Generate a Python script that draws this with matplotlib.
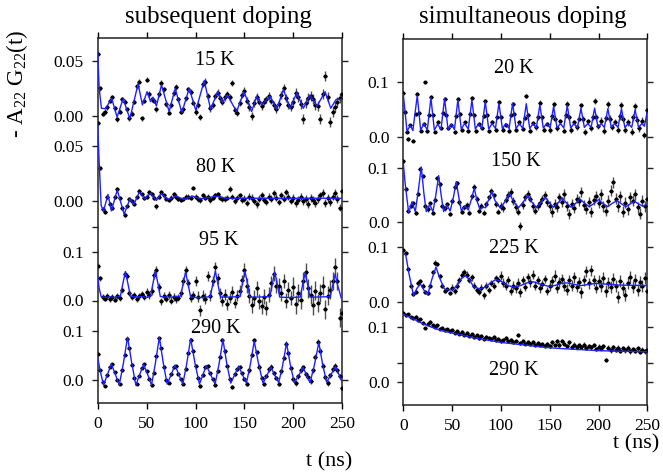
import numpy as np
import matplotlib
matplotlib.use('Agg')
import matplotlib.pyplot as plt

plt.rcParams['font.family'] = ['Liberation Serif', 'DejaVu Serif']
plt.rcParams['mathtext.fontset'] = 'custom'
plt.rcParams['mathtext.rm'] = 'Liberation Serif'
plt.rcParams['mathtext.it'] = 'Liberation Serif:italic'

# ---------------- data ----------------
BIN_NS = 2.5  # spacing of the regularly binned data (ns)

# subsequent doping, 15 K
l15_fit_t = [0, 1.5, 3.8, 8, 14.3, 19.8, 26, 32.8, 41.3, 45.7, 50.5, 54, 56.5, 60, 65.2, 73, 79.2, 86, 93.5,
             100.3, 108.9, 115.4, 122.5, 127.6, 132.4, 142, 149.5, 157.3, 162.5, 167.6, 176, 183, 189.8,
             196.6, 203.4, 210.2, 217, 224, 232.4, 238.2, 243.7, 250]
l15_fit_v = [0.058, 0.025, 0.007, 0.0066, 0.016, -0.001, 0.0157, -0.0024, 0.029, 0.010, 0.022, 0.013, 0.017,
             0.009, 0.028, 0.004, 0.025, 0.003, 0.025, 0.005, 0.032, 0.006, 0.022, 0.012, 0.019, 0.004, 0.022,
             0.004, 0.018, 0.010, 0.018, 0.006, 0.024, 0.0066, 0.021, 0.007, 0.019, 0.0087, 0.022, 0.007,
             0.015, 0.015]
l15_data = [0.056, 0.025, 0.002, 0.004, 0.008, 0.014, 0.017, 0.007, -0.003, 0.004,
            0.015, 0.013, 0.006, -0.002, 0.002, 0.013, 0.027, 0.031, -0.002, 0.014,
            0.033, 0.020, 0.015, 0.014, 0.006, 0.020, 0.030, 0.024, 0.011, 0.003,
            0.010, 0.021, 0.026, 0.015, 0.004, 0.006, 0.016, 0.024, 0.022, 0.012,
            0.004, 0.010, -0.001, 0.029, 0.031, 0.018, 0.007, 0.010, 0.018, 0.021,
            0.016, 0.013, 0.017, 0.020, 0.017, 0.030, 0.005, 0.003, 0.012, 0.019,
            0.023, 0.014, 0.008, 0.000, 0.012, 0.017, 0.013, 0.009, 0.013, 0.015,
            0.018, 0.014, 0.010, 0.006, 0.011, 0.019, 0.025, 0.016, 0.010, 0.008,
            0.013, 0.021, 0.017, 0.011, -0.003, 0.012, 0.016, 0.018, 0.015, 0.010,
            0.009, -0.003, 0.020, 0.036, 0.017, -0.005, 0.004, 0.008, 0.013, 0.016,
            0.020]
l15_err = [0.0022, 0.0025, 0.003, 0.0035, 0.0045]

# subsequent doping, 80 K
l80_fit_t = [0, 1.5, 3.5, 6, 10.5, 14, 20, 27, 33, 37, 42.5, 48, 54, 60, 65, 72, 80, 88, 97, 105, 113, 121, 130, 250]
l80_fit_v = [0.070, 0.035, -0.004, -0.009, 0.006, -0.009, 0.010, -0.012, 0.002, -0.003, 0.008, 0.002, 0.007,
             0.0005, 0.0065, 0.0015, 0.0045, 0.0015, 0.0045, 0.002, 0.003, 0.0045, 0.0025, 0.0025]
l80_data = [0.071, 0.030, -0.007, -0.010, 0.004, -0.003, -0.006, 0.004, 0.011, 0.003,
            -0.006, -0.013, -0.005, 0.002, 0.000, -0.003, 0.004, 0.009, 0.006, 0.003,
            0.004, 0.008, 0.006, 0.003, -0.005, 0.004, 0.008, 0.005, 0.002, 0.001,
            0.003, 0.006, 0.004, 0.002, 0.001, 0.002, 0.004, 0.004, 0.003, 0.012,
            0.004, 0.002, 0.001, 0.005, 0.003, 0.004, 0.001, 0.003, 0.005, 0.006,
            0.003, 0.002, 0.002, 0.003, 0.011, 0.004, 0.000, 0.003, 0.005, 0.001,
            0.002, -0.002, 0.004, 0.003, 0.000, -0.003, 0.002, 0.005, 0.001, -0.001,
            0.004, 0.002, 0.007, 0.003, -0.001, 0.005, 0.002, 0.008, 0.004, 0.000,
            0.003, -0.002, 0.001, 0.004, 0.000, 0.002, -0.003, 0.003, 0.001, -0.002,
            0.002, 0.005, 0.007, -0.002, 0.003, -0.001, 0.004, 0.007, 0.002, -0.006,
            0.009]
l80_err = [0.0018, 0.002, 0.0025, 0.003, 0.0035]

# subsequent doping, 95 K
l95_fit_t = [0, 1.5, 3.5, 8, 12, 17, 21, 23.3, 25.8, 28.3, 30.8, 33.5, 38, 45, 50, 54, 56.5, 59, 61.5, 64, 70, 78,
             84.8, 87.3, 89.8, 92.3, 95, 100, 108, 115.2, 117.7, 120.2, 122.7, 125.5, 135, 145.5, 148, 150.5,
             153, 155.5, 165, 176, 178.5, 181, 183.5, 186, 195, 207, 209.5, 212, 214.5, 217, 225, 237.7,
             240.2, 242.7, 245.2, 249]
l95_fit_v = [0.049, 0.025, 0.008, 0.006, 0.008, 0.006, 0.008, 0.010, 0.035, 0.059, 0.035, 0.009, 0.007, 0.008,
             0.006, 0.009, 0.035, 0.060, 0.035, 0.008, 0.007, 0.007, 0.009, 0.034, 0.058, 0.034, 0.007, 0.006,
             0.006, 0.008, 0.035, 0.060, 0.035, 0.007, 0.007, 0.008, 0.035, 0.060, 0.035, 0.007, 0.007, 0.008,
             0.034, 0.058, 0.034, 0.007, 0.006, 0.007, 0.033, 0.056, 0.033, 0.007, 0.007, 0.008, 0.031, 0.054,
             0.031, 0.005]
l95_data = [0.070, 0.045, 0.008, 0.004, 0.010, 0.003, 0.008, 0.002, 0.009, 0.006,
            0.022, 0.055, 0.050, 0.015, 0.007, 0.012, 0.003, 0.010, 0.014, 0.008,
            0.018, 0.012, 0.020, 0.052, 0.063, 0.028, -0.002, 0.010, 0.004, 0.012,
            0.000, 0.008, 0.003, 0.006, 0.015, 0.040, 0.062, 0.036, 0.005, 0.012,
            0.040, 0.008, -0.020, 0.010, 0.004, 0.050, 0.010, 0.040, 0.068, 0.045,
            0.015, 0.000, 0.012, -0.008, 0.005, 0.018, -0.005, 0.010, 0.020, 0.042,
            0.062, 0.030, 0.010, -0.010, 0.006, 0.025, -0.002, -0.012, 0.008, -0.015,
            0.012, 0.035, 0.055, 0.030, 0.030, 0.015, 0.040, 0.000, 0.022, 0.005,
            0.028, -0.008, 0.015, 0.002, 0.040, 0.058, 0.025, 0.012, -0.010, 0.020,
            -0.005, 0.015, 0.030, -0.018, 0.010, 0.022, 0.040, 0.068, 0.040, -0.035,
            -0.025]
l95_err = [0.006, 0.008, 0.011, 0.015, 0.019]

# subsequent doping, 290 K
l290_fit_t = [0, 3, 6, 10, 14, 18, 22, 26.3, 30.5, 34.8, 39, 43, 47, 51, 55, 59, 63, 67, 71, 75, 79, 83, 87, 91, 95,
              99.5, 104, 107.5, 111, 115.5, 120, 124, 128, 132, 136, 140, 144, 148, 152, 156, 160, 164.5, 169,
              173, 177, 181, 185, 189, 193, 197, 201, 205.5, 210, 213.5, 217, 221.5, 226, 230, 234, 238.5, 243,
              246.5, 250]
l290_fit_v = [0.045, 0.015, -0.010, 0.012, 0.033, 0.012, -0.010, 0.035, 0.088, 0.035, -0.010, 0.012, 0.033, 0.012,
              -0.010, 0.035, 0.088, 0.035, -0.008, 0.011, 0.031, 0.011, -0.008, 0.034, 0.085, 0.034, -0.008,
              0.011, 0.030, 0.011, -0.008, 0.033, 0.083, 0.033, -0.006, 0.011, 0.029, 0.011, -0.006, 0.032, 0.080,
              0.032, -0.006, 0.010, 0.027, 0.010, -0.005, 0.030, 0.076, 0.030, -0.005, 0.010, 0.026, 0.010,
              -0.005, 0.031, 0.077, 0.031, -0.004, 0.012, 0.028, 0.012, -0.005]
l290_data = [0.054, 0.020, -0.004, -0.012, 0.010, 0.027, 0.033, 0.016, 0.000, -0.008,
             0.020, 0.052, 0.085, 0.065, 0.032, 0.004, -0.008, 0.009, 0.025, 0.033,
             0.018, 0.003, -0.010, 0.015, 0.050, 0.086, 0.065, 0.028, 0.000, -0.005,
             0.012, 0.026, 0.029, 0.013, 0.002, -0.007, 0.022, 0.055, 0.083, 0.060,
             0.030, 0.004, -0.012, 0.010, 0.026, 0.029, 0.014, 0.002, -0.010, 0.018,
             0.048, 0.082, 0.060, 0.030, 0.002, -0.014, 0.012, 0.022, 0.028, 0.014,
             0.002, -0.008, 0.020, 0.052, 0.082, 0.058, 0.028, 0.005, -0.008, 0.008,
             0.022, 0.028, 0.015, 0.004, -0.008, 0.018, 0.045, 0.075, 0.055, 0.025,
             0.002, -0.006, 0.008, 0.020, 0.026, 0.012, 0.006, -0.002, 0.020, 0.048,
             0.078, 0.060, 0.030, 0.006, -0.006, 0.010, 0.022, 0.030, 0.020, 0.008,
             -0.015]
l290_err = [0.0025, 0.003, 0.0035, 0.0045, 0.0055]

# simultaneous doping, 20 K
r20_fit_t = [0, 3.8, 7.2, 9.8, 14.3, 17.8, 21.2, 24.6, 28.3, 31.8, 35.2, 38.6, 42.3, 45.8, 49.2, 52.4, 55.9, 59.4,
             62.8, 66.6, 70.3, 73.8, 77.2, 80.4, 84, 87.5, 91, 94.4, 98, 101.5, 105, 108.4, 112, 115.5, 119,
             122.4, 126, 129.5, 133, 136.3, 139.9, 143.4, 147, 150.4, 154, 157.5, 161, 164.4, 168, 171.5, 175,
             178.4, 182, 185.5, 189, 192.4, 196, 199.5, 202.8, 206, 209.6, 213.1, 216.6, 220, 223.5, 227,
             230.5, 234, 237.5, 241, 244.5, 247, 250]
r20_fit_v = [0.078, 0.011, 0.022, 0.012, 0.076, 0.013, 0.025, 0.013, 0.072, 0.013, 0.024, 0.014, 0.071, 0.014,
             0.024, 0.014, 0.068, 0.015, 0.025, 0.015, 0.068, 0.015, 0.025, 0.015, 0.065, 0.015, 0.025, 0.016,
             0.062, 0.016, 0.025, 0.016, 0.062, 0.016, 0.025, 0.016, 0.061, 0.016, 0.025, 0.017, 0.059, 0.017,
             0.025, 0.017, 0.056, 0.017, 0.025, 0.017, 0.058, 0.017, 0.025, 0.017, 0.053, 0.018, 0.025, 0.018,
             0.053, 0.018, 0.025, 0.018, 0.052, 0.018, 0.025, 0.018, 0.052, 0.018, 0.025, 0.018, 0.050, 0.018,
             0.025, 0.020, 0.047]
r20_data_t = [0, 1.8, 3.8, 5.2, 7, 9.5, 12.5,
              14.3, 16.1, 18.1, 21.2, 21.8, 24.5, 26.5,
              28.3, 30.1, 32.1, 35.2, 38.5, 40.5,
              42.3, 44.1, 46.1, 49.2, 52.5, 54.1,
              55.9, 57.7, 59.7, 62.8, 66.4, 68.5,
              70.3, 72.1, 74.1, 77.2, 80.5, 82.2,
              84, 85.8, 87.8, 91, 94.5, 96.2,
              98, 99.8, 101.8, 105, 108.4, 110.2,
              112, 113.8, 115.8, 119, 122.4, 124.2,
              126, 127.8, 129.8, 133, 136.3, 138.1,
              139.9, 141.7, 143.7, 147, 150.4, 152.2,
              154, 155.8, 157.8, 161, 164.4, 166.2,
              168, 169.8, 171.8, 175, 178.4, 180.2,
              182, 183.8, 185.8, 189, 192.4, 194.2,
              196, 197.8, 199.8, 202.8, 206, 207.8,
              209.6, 211.4, 213.4, 216.6, 220, 221.7,
              223.5, 225.3, 227.3, 230.5, 234, 235.7,
              237.5, 239.3, 241.3, 244.5, 247, 250]
r20_data_v = [0.081, 0.046, 0.010, -0.003, 0.022, -0.006, 0.042,
              0.079, 0.044, 0.012, 0.024, 0.100, 0.011, 0.040,
              0.074, 0.041, 0.010, 0.028, 0.016, 0.045,
              0.070, 0.040, 0.016, 0.022, 0.009, 0.038,
              0.070, 0.043, 0.013, 0.027, 0.012, 0.042,
              0.072, 0.040, 0.011, 0.024, 0.016, 0.038,
              0.066, 0.041, 0.012, 0.028, 0.013, 0.036,
              0.064, 0.037, 0.014, 0.022, 0.012, 0.040,
              0.060, 0.042, 0.013, 0.027, 0.015, 0.035,
              0.075, 0.040, 0.012, 0.026, 0.018, 0.036,
              0.063, 0.036, 0.014, 0.024, 0.013, 0.038,
              0.060, 0.034, 0.016, 0.029, 0.012, 0.040,
              0.061, 0.036, 0.013, 0.027, 0.019, 0.034,
              0.058, 0.033, 0.010, 0.029, 0.016, 0.036,
              0.066, 0.037, 0.020, 0.030, 0.012, 0.035,
              0.060, 0.034, 0.019, 0.028, 0.013, 0.038,
              0.059, 0.033, 0.014, 0.027, 0.010, 0.036,
              0.056, 0.032, 0.016, 0.030, 0.004, 0.050]
r20_err = [0.003, 0.0035, 0.004, 0.005, 0.006]

# simultaneous doping, 150 K
r150_fit_t = [0, 2, 5.5, 8.9, 12.3, 15.5, 18.4, 21, 23.5, 27, 30.4, 33.3, 36.2, 38.8, 41.3, 44.7, 48, 51.2, 54.3,
              57, 59.4, 63, 66.5, 69.7, 72.7, 75.5, 78.5, 81.5, 84, 87.5, 90.8, 94, 99.5, 104, 108.9, 113, 118,
              123, 127.6, 131.5, 136.5, 141, 145.4, 149.5, 154, 158.5, 163, 167, 172, 176.5, 181, 186, 190.5,
              195.5, 200, 204.5, 209.5, 214, 218.8, 223, 228, 232.5, 236.9, 241, 245.5, 250]
r150_fit_v = [0.108, 0.070, 0.018, 0.038, 0.020, 0.060, 0.102, 0.055, 0.020, 0.033, 0.020, 0.050, 0.086, 0.050,
              0.020, 0.032, 0.021, 0.045, 0.075, 0.045, 0.022, 0.030, 0.023, 0.042, 0.063, 0.040, 0.024, 0.028,
              0.027, 0.042, 0.057, 0.040, 0.026, 0.038, 0.053, 0.038, 0.027, 0.038, 0.050, 0.038, 0.027, 0.037,
              0.047, 0.036, 0.028, 0.036, 0.045, 0.036, 0.028, 0.035, 0.043, 0.035, 0.029, 0.035, 0.042, 0.035,
              0.029, 0.035, 0.040, 0.035, 0.029, 0.034, 0.039, 0.034, 0.030, 0.033]
r150_data = [0.112, 0.062, 0.022, 0.030, 0.035, 0.018, 0.052, 0.098, 0.085, 0.030,
             0.024, 0.036, 0.018, 0.042, 0.082, 0.070, 0.030, 0.026, 0.034, 0.016,
             0.040, 0.066, 0.072, 0.038, 0.020, 0.028, 0.032, 0.018, 0.048, 0.066,
             0.044, 0.022, 0.030, 0.018, 0.034, 0.046, 0.058, 0.050, 0.034, 0.020,
             0.030, 0.026, 0.042, 0.050, 0.056, 0.040, 0.028, 0.020, -0.006, 0.032,
             0.046, 0.052, 0.044, 0.030, 0.022, 0.030, 0.036, 0.044, 0.050, 0.038,
             0.030, 0.020, 0.034, 0.028, 0.046, 0.038, 0.052, 0.030, 0.016, 0.034,
             0.026, 0.044, 0.040, 0.056, 0.032, 0.024, 0.038, 0.020, 0.042, 0.048,
             0.036, 0.052, 0.030, 0.022, 0.040, 0.058, 0.074, 0.044, 0.030, 0.048,
             0.020, 0.036, 0.024, 0.046, 0.040, 0.052, 0.028, 0.016, 0.040, 0.030,
             0.044]
r150_err = [0.004, 0.005, 0.007, 0.009, 0.010]

# simultaneous doping, 225 K
r225_fit_t = [0, 2.5, 6, 10.5, 14, 17.5, 21, 25, 29, 33.5, 37, 42, 46, 50, 55, 60, 64, 68, 72, 78, 84, 90, 95, 100,
              107, 114, 120, 127, 133, 140, 148, 155, 162, 168, 175, 182, 190, 197, 205, 220, 250]
r225_fit_v = [0.088, 0.086, 0.050, 0.012, 0.025, 0.033, 0.022, 0.013, 0.040, 0.064, 0.045, 0.024, 0.022, 0.022,
              0.030, 0.044, 0.048, 0.040, 0.028, 0.024, 0.027, 0.036, 0.041, 0.038, 0.030, 0.027, 0.030, 0.035,
              0.037, 0.033, 0.029, 0.030, 0.034, 0.035, 0.032, 0.030, 0.032, 0.034, 0.033, 0.031, 0.030]
r225_data = [0.095, 0.090, 0.060, 0.030, 0.015, 0.018, 0.035, 0.038, 0.030, 0.018,
             0.016, 0.030, 0.055, 0.072, 0.070, 0.048, 0.030, 0.020, 0.024, 0.016,
             0.026, 0.020, 0.030, 0.040, 0.050, 0.055, 0.050, 0.040, 0.045, 0.030,
             0.022, 0.018, 0.026, 0.012, 0.030, 0.022, 0.035, 0.030, 0.044, 0.040,
             0.048, 0.035, 0.030, 0.040, 0.020, 0.030, 0.025, 0.035, 0.018, 0.040,
             0.028, 0.045, 0.036, 0.050, 0.030, 0.040, 0.025, 0.032, 0.042, 0.020,
             0.030, 0.038, 0.048, 0.026, 0.036, 0.042, 0.030, 0.022, 0.040, 0.030,
             0.045, 0.028, 0.036, 0.018, 0.040, 0.056, 0.034, 0.058, 0.040, 0.026,
             0.038, 0.030, 0.044, 0.020, 0.034, 0.028, 0.042, 0.030, 0.010, 0.038,
             0.026, 0.012, 0.034, 0.046, 0.028, 0.040, 0.022, 0.036, 0.030, 0.044,
             0.020]
r225_err = [0.004, 0.006, 0.008, 0.010, 0.011]

# simultaneous doping, 290 K
r290_fit_t = [0, 10, 20, 30, 40, 50, 60, 70, 80, 90, 100, 115, 130, 145, 160, 180, 200, 220, 250]
r290_fit_v = [0.123, 0.115, 0.106, 0.099, 0.093, 0.089, 0.085, 0.081, 0.078, 0.075, 0.072, 0.069, 0.066, 0.063,
              0.061, 0.059, 0.057, 0.056, 0.055]
r290_data = [0.125, 0.121, 0.123, 0.118, 0.116, 0.119, 0.112, 0.114, 0.108, 0.098,
             0.106, 0.110, 0.103, 0.100, 0.103, 0.097, 0.099, 0.094, 0.096, 0.092,
             0.095, 0.090, 0.092, 0.088, 0.091, 0.086, 0.089, 0.084, 0.087, 0.082,
             0.085, 0.080, 0.084, 0.079, 0.082, 0.080, 0.078, 0.082, 0.076, 0.079,
             0.075, 0.077, 0.080, 0.074, 0.076, 0.072, 0.075, 0.085, 0.071, 0.074,
             0.070, 0.073, 0.069, 0.072, 0.068, 0.071, 0.067, 0.070, 0.066, 0.069,
             0.065, 0.072, 0.067, 0.074, 0.068, 0.075, 0.070, 0.066, 0.072, 0.064,
             0.068, 0.063, 0.067, 0.064, 0.068, 0.062, 0.066, 0.063, 0.067, 0.060,
             0.064, 0.061, 0.065, 0.040, 0.062, 0.058, 0.063, 0.059, 0.062, 0.057,
             0.061, 0.058, 0.062, 0.056, 0.060, 0.057, 0.061, 0.055, 0.059, 0.056,
             0.058]
r290_err = [0.0025, 0.003, 0.0035, 0.004, 0.0045]

x_ticks = [0, 50, 100, 150, 200, 250]

# ---------------- figure ----------------
W, H = 663, 476
fig = plt.figure(figsize=(W / 100, H / 100), dpi=100)

def rect(x0, x1, ytop, ybot):
    return [x0 / W, 1 - ybot / H, (x1 - x0) / W, (ybot - ytop) / H]

COLS = {'L': (97.7, 342.3, 38.3, 403.3), 'R': (403.3, 647.3, 39.0, 405.0)}
TICK_FS = 12.5
FIT_COLOR = '#1f1fff'

for key, (x0, x1, yt, yb) in COLS.items():
    fr = fig.add_axes(rect(x0, x1, yt, yb), label='frame' + key)
    fr.set_xlim(0, 250)
    fr.set_ylim(0, 1)
    fr.set_yticks([])
    fr.set_xticks(x_ticks)
    fr.set_xticklabels([str(v) for v in x_ticks])
    fr.tick_params(axis='x', direction='out', length=4, width=1, top=True, labeltop=False,
                   labelsize=TICK_FS, pad=5)
    fr.patch.set_visible(False)
    for s in fr.spines.values():
        s.set_linewidth(1.1)
        s.set_color('#222222')

def errs(seg, n_t):
    idx = np.minimum((np.asarray(n_t) // 50).astype(int), 4)
    return np.asarray(seg)[idx]

def panel(key, zero_px, tick_px, tv, ticks, labels, t_fit, v_fit, t_dat, v_dat, err_seg,
          name, name_xy):
    x0, x1, yt, yb = COLS[key]
    ax = fig.add_axes(rect(x0, x1, yt, yb), label=key + name)
    s = (zero_px - tick_px) / tv
    ax.set_ylim(-(yb - zero_px) / s, (zero_px - yt) / s)
    ax.set_xlim(0, 250)
    ax.patch.set_visible(False)
    for sp in ax.spines.values():
        sp.set_visible(False)
    ax.set_xticks([])
    ax.set_yticks(ticks)
    ax.set_yticklabels(labels)
    ax.tick_params(axis='y', direction='out', length=4, width=1, right=True, labelright=False,
                   labelsize=TICK_FS, pad=6, color='#222222')
    t_dat = np.asarray(t_dat, dtype=float)
    ax.errorbar(t_dat, v_dat, yerr=errs(err_seg, t_dat), fmt='o', ms=1.9, color='k',
                ecolor='0.3', elinewidth=1.0, capsize=0, zorder=2)
    ax.plot(t_dat, v_dat, '_', ms=3, mew=0.8, color='k', zorder=2)
    ax.plot(t_fit, v_fit, color=FIT_COLOR, lw=1.0, zorder=3)
    fig.text(name_xy[0] / W, 1 - name_xy[1] / H, name, ha='center', va='baseline', fontsize=14.5)

def bins(vals):
    return BIN_NS * np.arange(len(vals))

panel('L', 116.0, 60.7, 0.05, [0.0, 0.05], ['0.00', '0.05'], l15_fit_t, l15_fit_v,
      bins(l15_data), l15_data, l15_err, '15 K', (215, 65))
panel('L', 201.0, 146.0, 0.05, [0.0, 0.05], ['0.00', '0.05'], l80_fit_t, l80_fit_v,
      bins(l80_data), l80_data, l80_err, '80 K', (216, 171.5))
panel('L', 300.5, 251.5, 0.1, [0.0, 0.1, 0.15], ['0.0', '0.1', ''], l95_fit_t, l95_fit_v,
      bins(l95_data), l95_data, l95_err, '95 K', (219, 245))
panel('L', 380.2, 331.3, 0.1, [0.0, 0.1], ['0.0', '0.1'], l290_fit_t, l290_fit_v,
      bins(l290_data), l290_data, l290_err, '290 K', (216, 333))
panel('R', 137.3, 82.3, 0.1, [0.0, 0.1], ['0.0', '0.1'], r20_fit_t, r20_fit_v,
      r20_data_t, r20_data_v, r20_err, '20 K', (514, 73))
panel('R', 222.5, 168.0, 0.1, [0.0, 0.1], ['0.0', '0.1'], r150_fit_t, r150_fit_v,
      bins(r150_data), r150_data, r150_err, '150 K', (516, 166.5))
panel('R', 302.0, 247.3, 0.1, [0.0, 0.1], ['0.0', '0.1'], r225_fit_t, r225_fit_v,
      bins(r225_data), r225_data, r225_err, '225 K', (514, 253))
panel('R', 382.0, 327.0, 0.1, [0.0, 0.035, 0.1], ['0.0', '', '0.1'], r290_fit_t, r290_fit_v,
      bins(r290_data), r290_data, r290_err, '290 K', (514, 375))

# titles and axis labels
fig.text(218.5 / W, 1 - 23.5 / H, 'subsequent doping', ha='center', va='baseline', fontsize=18)
fig.text(522.7 / W, 1 - 23.5 / H, 'simultaneous doping', ha='center', va='baseline', fontsize=18)
fig.text(17 / W, 1 - 84 / H, r'- A$_{22}$ G$_{22}$(t)', rotation=90, ha='center', va='center', fontsize=16.5)
fig.text(329.5 / W, 1 - 466.5 / H, 't (ns)', ha='center', va='baseline', fontsize=16)
fig.text(636 / W, 1 - 448 / H, 't (ns)', ha='center', va='baseline', fontsize=16)

fig.savefig('out.png', dpi=100)
